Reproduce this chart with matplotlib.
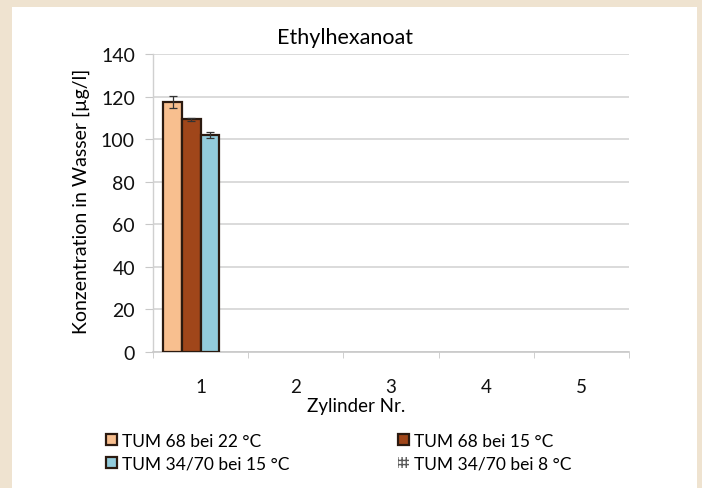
import matplotlib
matplotlib.use("Agg")
import matplotlib.pyplot as plt
from matplotlib.patches import Rectangle, Patch
import numpy as np

plt.rcParams['font.family'] = ['Lato', 'DejaVu Sans']
plt.rcParams['hatch.linewidth'] = 1.0

categories = ["1", "2", "3", "4", "5"]
series_names = ["TUM 68 bei 22 °C", "TUM 68 bei 15 °C", "TUM 34/70 bei 15 °C", "TUM 34/70 bei 8 °C"]
values = [
    [117.5, np.nan, np.nan, np.nan, np.nan],
    [109.3, np.nan, np.nan, np.nan, np.nan],
    [101.9, np.nan, np.nan, np.nan, np.nan],
    [np.nan, np.nan, np.nan, np.nan, np.nan],
]
errors = [
    [3.0, 0, 0, 0, 0],
    [0.6, 0, 0, 0, 0],
    [1.5, 0, 0, 0, 0],
    [0, 0, 0, 0, 0],
]
colors = ["#F8BF8F", "#A0461A", "#93CCDC", "#9A9A9A"]
title = "Ethylhexanoat"
ylabel = "Konzentration in Wasser [µg/l]"
xlabel = "Zylinder Nr."

W, H = 702, 489
fig = plt.figure(figsize=(W / 100, H / 100), dpi=100)
fig.patch.set_facecolor("#EFE3D0")
fig.add_artist(Rectangle((12 / W, 0), (697 - 12) / W, (489 - 8) / H,
                         transform=fig.transFigure, facecolor="white",
                         edgecolor="none", zorder=0))

ax = fig.add_axes([153 / W, 1 - 353 / H, (629 - 153) / W, (353 - 55) / H])
ax.set_facecolor("none")

x = np.arange(len(categories))
bw = 0.195
n = len(series_names)
for i in range(n):
    offs = (i - (n - 1) / 2) * bw
    vals = np.array(values[i], dtype=float)
    mask = ~np.isnan(vals)
    if mask.any():
        ax.bar(x[mask] + offs, vals[mask], width=bw, color=colors[i],
               edgecolor="#2B1A10", linewidth=1.6, zorder=3)
        ax.errorbar(x[mask] + offs, vals[mask], yerr=np.array(errors[i])[mask],
                    fmt="none", ecolor="#333333", elinewidth=0.9, capsize=3,
                    capthick=0.9, zorder=4)

ax.set_xlim(-0.5, len(categories) - 0.5)
ax.set_ylim(0, 140)
ax.set_yticks(np.arange(0, 141, 20))
ax.set_xticks(x)
ax.set_xticklabels(categories)
ax.set_xticks(np.arange(-0.5, len(categories) + 0.5, 1), minor=True)
ax.grid(axis="y", color="#D4D4D4", linewidth=1.2, zorder=0)
for s in ["top", "right"]:
    ax.spines[s].set_visible(False)
ax.spines["left"].set_color("#D0D0D0")
ax.spines["bottom"].set_color("#C8C8C8")
ax.spines["left"].set_linewidth(1.0)
ax.spines["bottom"].set_linewidth(1.2)
ax.tick_params(axis="y", length=6, color="#C8C8C8", labelsize=14, pad=7, labelcolor="#111111")
ax.tick_params(axis="x", which="major", length=0, labelsize=13.5, pad=19, labelcolor="#111111")
ax.tick_params(axis="x", which="minor", length=4, color="#C8C8C8")

fig.text(345 / W, 1 - 38 / H, title, ha="center", va="center", fontsize=15.5, color="#000000")
fig.text(81 / W, 1 - 201 / H, ylabel, ha="center", va="center", rotation=90,
         fontsize=14, color="#000000")
fig.text(356 / W, 1 - 407 / H, xlabel, ha="center", va="center", fontsize=13.5, color="#000000")

handles = [Patch(facecolor=colors[0], edgecolor="#2B1A10", linewidth=1.6),
           Patch(facecolor=colors[1], edgecolor="#2B1A10", linewidth=1.6),
           Patch(facecolor=colors[2], edgecolor="#2B1A10", linewidth=1.6),
           Patch(facecolor="white", edgecolor="#5A5A5A", hatch="++++", linewidth=0)]
order = [0, 2, 1, 3]
leg = fig.legend([handles[i] for i in order], [series_names[i] for i in order],
                 ncol=2, loc="center left", bbox_to_anchor=(106 / W, 1 - 453 / H),
                 frameon=False, fontsize=12.5, handlelength=0.65, handleheight=0.65,
                 handletextpad=0.3, columnspacing=6.2, labelspacing=0.4,
                 borderaxespad=0, borderpad=0)

fig.savefig("out.png", dpi=100, facecolor=fig.get_facecolor())
